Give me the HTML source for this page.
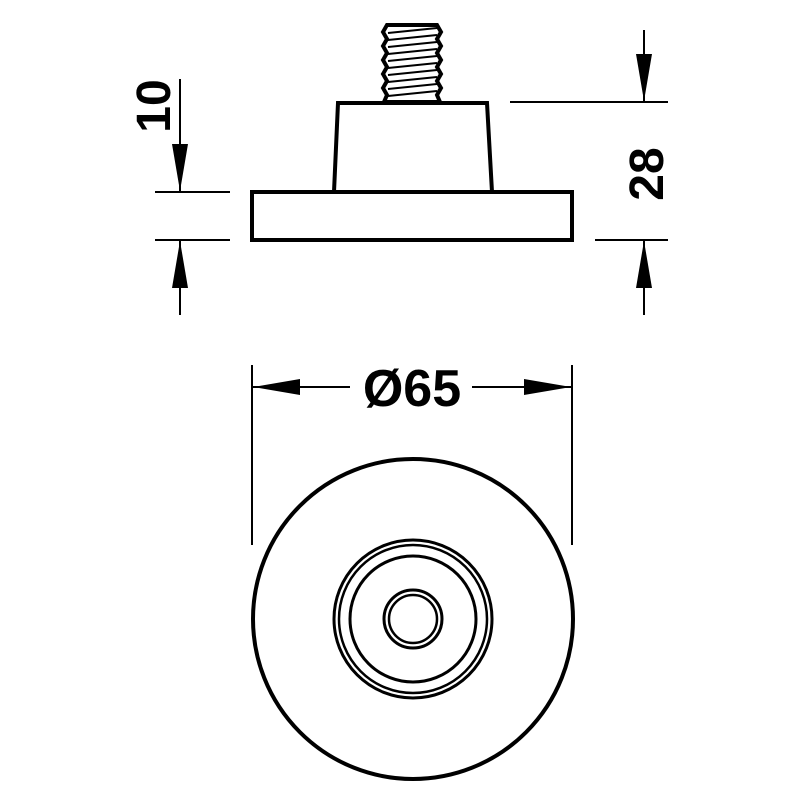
<!DOCTYPE html>
<html><head><style>body{margin:0;background:#fff}</style></head><body>
<svg width="800" height="800" viewBox="0 0 800 800" xmlns="http://www.w3.org/2000/svg">
<g fill="none" stroke="#000" stroke-width="2">
<line x1="180" y1="79" x2="180" y2="192"/>
<line x1="180" y1="240" x2="180" y2="315"/>
<line x1="155" y1="192" x2="230" y2="192"/>
<line x1="155" y1="240" x2="230" y2="240"/>
<line x1="644" y1="30" x2="644" y2="102"/>
<line x1="644" y1="240" x2="644" y2="315"/>
<line x1="510" y1="102" x2="668" y2="102"/>
<line x1="595" y1="240" x2="668" y2="240"/>
<line x1="252" y1="365" x2="252" y2="545"/>
<line x1="572" y1="365" x2="572" y2="545"/>
<line x1="252" y1="387" x2="350" y2="387"/>
<line x1="472" y1="387" x2="572" y2="387"/>
</g>
<g fill="#000">
<polygon points="180,191 172,144 188,144"/>
<polygon points="180,241 172,288 188,288"/>
<polygon points="644,101 636,54 652,54"/>
<polygon points="644,241 636,288 652,288"/>
<polygon points="253,387 300,379 300,395"/>
<polygon points="571,387 524,379 524,395"/>
</g>
<g fill="none" stroke="#000" stroke-width="4">
<rect x="252" y="192" width="320" height="48"/>
<polygon points="334,192 338,103 487,103 492,192"/>
<path d="M387,25 L437,25 L441,32 L437,39 L441,46 L437,53 L441,60 L437,67 L441,74 L437,81 L441,88 L437,95 L440,102 L384,102 L387,95 L383,88 L387,81 L383,74 L387,67 L383,60 L387,53 L383,46 L387,39 L383,32 Z" fill="#fff"/>
<circle cx="413" cy="619" r="160"/>
<circle cx="413" cy="619" r="79" stroke-width="3"/>
<circle cx="413" cy="619" r="74" stroke-width="2.5"/>
<circle cx="413" cy="619" r="63" stroke-width="3"/>
<circle cx="413" cy="619" r="29" stroke-width="3"/>
<circle cx="413" cy="619" r="24" stroke-width="2.5"/>
</g>
<g stroke="#000" stroke-width="2">
<line x1="388" y1="33" x2="437" y2="28"/><line x1="388" y1="40" x2="437" y2="35"/>
<line x1="388" y1="47" x2="437" y2="42"/><line x1="388" y1="54" x2="437" y2="49"/>
<line x1="388" y1="61" x2="437" y2="56"/><line x1="388" y1="68" x2="437" y2="63"/>
<line x1="388" y1="75" x2="437" y2="70"/><line x1="388" y1="82" x2="437" y2="77"/>
<line x1="388" y1="89" x2="437" y2="84"/><line x1="388" y1="96" x2="437" y2="91"/>
</g>
<g font-family="Liberation Sans, sans-serif" font-weight="bold" fill="#000" text-anchor="middle">
<text x="412" y="406" font-size="52">Ø65</text>
<text transform="translate(170,106) rotate(-90)" font-size="48">10</text>
<text transform="translate(663,174) rotate(-90)" font-size="48">28</text>
</g>
</svg>
</body></html>
